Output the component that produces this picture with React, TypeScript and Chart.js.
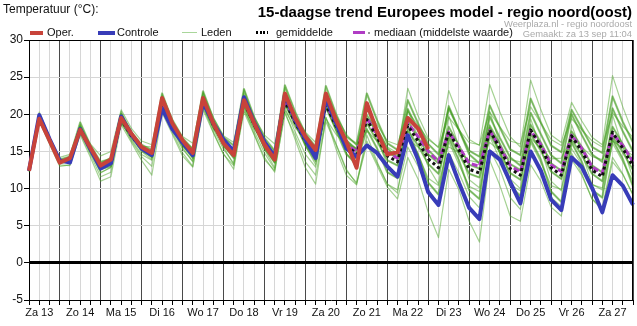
import React, { useEffect, useRef } from 'react';
import { Chart, registerables } from 'chart.js';
Chart.register(...registerables);

// ---- data ----
const dayLabels = ['Za 13', 'Zo 14', 'Ma 15', 'Di 16', 'Wo 17', 'Do 18', 'Vr 19', 'Za 20', 'Zo 21', 'Ma 22', 'Di 23', 'Wo 24', 'Do 25', 'Vr 26', 'Za 27'];
const hourLabels = ['06', '12', '18', '00'];
const yTicks = [-5, 0, 5, 10, 15, 20, 25, 30];

const oper = [
  12.4, 19.4, 16.5, 13.5, 14.1, 17.9, 15.5, 13.1, 13.9, 19.5, 17.4, 15.6,
  14.8, 22.2, 18.8, 16.5, 14.8, 22.2, 18.8, 16.1, 14.5, 21.9, 18.8, 15.9,
  13.9, 22.8, 19.5, 17.0, 15.2, 22.8, 19.2, 16.3, 12.8, 21.5, 17.7, 14.6,
  14.9, 19.5, 18.1, 15.3,
];
const controle = [
  12.4, 19.9, 16.7, 13.8, 13.5, 18.0, 15.3, 12.7, 13.4, 19.7, 17.3, 15.4,
  14.5, 20.8, 18.0, 16.2, 14.5, 21.6, 18.8, 16.6, 15.0, 22.3, 18.9, 16.3,
  14.3, 22.6, 19.3, 16.6, 14.1, 22.2, 18.8, 15.4, 14.3, 15.8, 14.8, 13.0,
  11.6, 17.2, 13.9, 9.5, 7.8, 14.5, 10.8, 7.4, 5.9, 15.0, 13.9, 10.9,
  8.0, 15.0, 12.4, 8.5, 7.1, 14.2, 12.9, 10.1, 6.8, 11.8, 10.4, 7.8,
];
const gemiddelde = [
  12.4, 19.6, 16.5, 13.6, 13.8, 18.0, 15.3, 12.9, 13.4, 19.4, 17.1, 15.4,
  14.6, 21.6, 18.4, 16.1, 14.6, 21.8, 18.6, 16.2, 14.5, 21.7, 18.6, 16.0,
  14.0, 21.8, 18.9, 16.4, 14.5, 21.3, 18.4, 15.9, 14.6, 19.3, 16.9, 14.4,
  13.6, 18.5, 16.4, 14.0, 12.8, 17.7, 15.2, 12.6, 12.1, 17.9, 15.4, 12.7,
  11.8, 17.9, 15.6, 12.8, 11.8, 17.1, 15.0, 12.5, 11.6, 17.6, 15.4, 13.0,
];
const mediaan = [
  12.4, 19.6, 16.5, 13.6, 13.8, 18.0, 15.3, 13.0, 13.5, 19.4, 17.1, 15.4,
  14.6, 21.7, 18.4, 16.1, 14.7, 21.9, 18.7, 16.3, 14.6, 21.8, 18.7, 16.1,
  14.2, 21.9, 19.0, 16.5, 14.8, 21.4, 18.6, 16.1, 14.9, 19.5, 17.2, 14.9,
  14.1, 18.8, 17.0, 15.0, 13.6, 17.6, 15.6, 13.4, 13.0, 17.8, 15.6, 13.1,
  12.2, 17.8, 15.9, 13.2, 12.3, 17.2, 15.4, 12.9, 12.1, 17.4, 15.8, 13.6,
];

const lid1 = [
  12.3, 19.8, 16.6, 13.9, 14.3, 18.9, 15.8, 13.6, 14.0, 20.1, 17.6, 15.9,
  15.2, 22.8, 19.1, 16.8, 15.3, 23.1, 19.4, 16.9, 15.8, 23.4, 19.6, 16.8,
  15.1, 23.9, 20.3, 17.4, 15.6, 23.8, 20.0, 17.0, 16.0, 22.8, 19.2, 16.1,
  15.2, 21.9, 18.8, 16.0, 14.6, 20.8, 17.9, 15.1, 14.3, 21.2, 18.2, 15.3,
  14.5, 22.1, 18.9, 15.8, 14.9, 20.6, 18.1, 15.6, 14.8, 22.4, 19.0, 16.2,
];
const lid2 = [
  12.5, 19.3, 16.2, 13.2, 13.1, 17.2, 14.2, 11.0, 11.6, 18.6, 16.2, 13.8,
  11.8, 20.2, 17.3, 14.4, 12.9, 20.6, 17.5, 14.6, 13.1, 20.3, 17.2, 13.9,
  12.4, 20.1, 17.1, 13.6, 11.8, 19.0, 15.9, 12.4, 10.8, 16.4, 13.4, 10.6,
  9.8, 15.6, 13.0, 9.9, 7.9, 14.8, 12.1, 8.9, 7.4, 15.3, 12.6, 8.8,
  7.2, 14.9, 12.4, 8.8, 7.6, 13.9, 11.8, 8.6, 7.4, 14.2, 12.0, 9.1,
];
const lid3 = [
  12.4, 19.6, 16.4, 13.4, 13.6, 17.7, 14.8, 12.2, 12.8, 19.0, 16.6, 14.6,
  13.8, 21.2, 17.9, 15.3, 13.7, 21.3, 18.0, 15.3, 13.4, 21.0, 17.7, 14.8,
  12.6, 20.9, 17.6, 14.6, 12.9, 19.6, 16.0, 12.6, 10.6, 16.0, 13.1, 10.2,
  8.6, 14.2, 11.3, 6.8, 3.4, 12.6, 9.8, 5.6, 2.8, 13.8, 10.4, 6.3,
  5.6, 13.2, 11.0, 7.5, 6.3, 14.8, 12.0, 8.6, 7.1, 13.6, 11.9, 9.2,
];
const lid4 = [
  12.3, 19.5, 16.6, 13.7, 14.0, 18.4, 15.6, 13.3, 13.9, 19.8, 17.4, 15.7,
  14.9, 22.0, 18.8, 16.5, 15.0, 22.4, 19.0, 16.6, 15.1, 22.6, 19.1, 16.5,
  14.6, 22.7, 19.5, 16.9, 15.2, 22.5, 19.3, 16.6, 15.2, 21.6, 18.2, 15.6,
  14.8, 23.5, 19.8, 16.8, 15.5, 23.2, 19.6, 16.6, 15.8, 24.0, 20.3, 17.0,
  15.6, 24.6, 20.6, 17.2, 16.2, 21.6, 19.1, 16.9, 15.9, 25.2, 21.0, 17.4,
];
const lid5 = [
  12.4, 19.5, 16.4, 13.5, 13.7, 17.9, 15.0, 12.6, 13.0, 19.2, 16.9, 15.1,
  14.3, 21.4, 18.1, 15.8, 14.3, 21.5, 18.3, 15.9, 14.1, 21.4, 18.3, 15.6,
  13.6, 21.5, 18.6, 16.0, 14.0, 20.9, 18.0, 15.4, 14.0, 18.8, 16.4, 13.8,
  13.1, 17.8, 15.8, 13.3, 12.0, 17.2, 14.7, 12.0, 11.5, 17.4, 14.9, 12.1,
  11.2, 17.3, 15.1, 12.3, 11.3, 16.6, 14.5, 12.0, 11.0, 17.0, 14.9, 12.5,
];
const lid6 = [
  12.4, 19.7, 16.6, 13.7, 13.9, 18.2, 15.5, 13.2, 13.7, 19.6, 17.3, 15.6,
  14.8, 21.8, 18.6, 16.3, 14.8, 22.0, 18.8, 16.4, 14.8, 22.0, 18.9, 16.3,
  14.3, 22.1, 19.1, 16.7, 14.9, 21.7, 18.8, 16.3, 15.0, 19.9, 17.4, 14.9,
  14.1, 19.1, 16.9, 14.6, 13.4, 18.3, 15.8, 13.2, 12.7, 18.5, 16.0, 13.3,
  12.5, 18.6, 16.2, 13.4, 12.4, 17.7, 15.6, 13.1, 12.2, 18.3, 16.0, 13.6,
];
const lid7 = [
  12.4, 20.3, 17.0, 13.8, 13.5, 18.6, 15.1, 12.1, 12.9, 20.4, 17.2, 15.0,
  13.9, 22.4, 18.2, 15.5, 13.6, 22.9, 18.7, 15.6, 13.2, 23.3, 19.0, 15.3,
  12.8, 23.6, 19.5, 15.8, 13.2, 22.6, 18.3, 14.8, 12.9, 20.8, 16.8, 13.1,
  11.8, 20.6, 16.9, 12.9, 10.6, 19.8, 15.6, 11.2, 10.1, 20.4, 16.0, 11.3,
  10.0, 19.4, 15.4, 11.0, 9.7, 18.6, 14.8, 10.6, 9.8, 19.9, 15.6, 11.4,
];
const lid8 = [
  12.4, 19.2, 16.3, 13.5, 14.1, 17.5, 15.4, 13.4, 14.2, 18.7, 17.0, 15.7,
  15.6, 20.4, 18.0, 16.6, 15.4, 20.8, 18.1, 16.5, 15.4, 20.5, 18.0, 16.4,
  15.0, 20.6, 18.2, 16.6, 15.3, 19.4, 17.3, 15.9, 15.5, 17.8, 16.4, 15.0,
  14.6, 16.6, 15.6, 14.5, 13.9, 15.6, 14.9, 13.8, 13.5, 16.2, 15.1, 13.9,
  13.6, 16.8, 15.4, 14.0, 14.1, 16.9, 15.6, 14.3, 13.9, 16.4, 15.5, 14.4,
];
const lid9 = [
  12.4, 19.8, 16.7, 13.6, 13.6, 18.3, 15.4, 12.8, 13.3, 19.9, 17.4, 15.4,
  14.2, 21.9, 18.5, 15.9, 14.1, 22.3, 18.8, 15.8, 14.3, 22.0, 18.6, 15.4,
  13.5, 22.4, 19.0, 15.8, 13.7, 21.2, 17.8, 14.6, 13.4, 18.0, 15.4, 12.2,
  11.4, 17.2, 14.6, 10.8, 9.2, 16.8, 13.8, 9.8, 8.6, 18.2, 14.8, 10.4,
  9.0, 16.6, 13.9, 9.6, 8.2, 16.2, 13.6, 9.8, 8.8, 16.6, 14.0, 10.3,
];
const lid10 = [
  12.4, 19.4, 16.5, 13.8, 14.0, 18.1, 15.3, 13.0, 13.5, 19.0, 17.0, 15.5,
  14.9, 21.3, 18.5, 16.3, 14.9, 21.5, 18.4, 16.2, 14.7, 21.2, 18.4, 16.2,
  14.4, 21.4, 18.7, 16.5, 14.8, 21.9, 18.9, 16.4, 15.3, 21.0, 18.0, 15.4,
  14.2, 20.7, 17.8, 15.2, 13.8, 21.1, 17.9, 14.6, 13.4, 19.7, 16.8, 14.2,
  13.1, 20.2, 17.3, 14.5, 13.4, 20.0, 17.2, 14.6, 13.6, 20.8, 17.7, 15.0,
];
const lid11 = [
  12.5, 19.1, 16.0, 13.0, 13.2, 17.4, 14.6, 11.6, 12.2, 19.1, 16.4, 14.3,
  13.0, 21.0, 17.6, 14.8, 13.0, 21.1, 17.6, 14.7, 12.6, 20.8, 17.3, 14.2,
  12.2, 20.4, 16.6, 12.8, 10.6, 19.6, 15.3, 11.8, 10.5, 17.2, 13.6, 10.6,
  9.4, 18.4, 14.6, 11.4, 10.4, 16.3, 13.2, 10.3, 9.6, 17.0, 13.9, 10.5,
  9.7, 16.2, 13.5, 10.4, 9.9, 15.4, 13.2, 10.5, 10.1, 16.1, 13.6, 11.0,
];
const lid12 = [
  12.4, 20.0, 16.8, 14.2, 14.6, 18.5, 16.0, 14.4, 15.0, 20.6, 18.1, 16.4,
  15.9, 22.6, 19.4, 17.0, 16.1, 22.9, 19.6, 17.1, 16.2, 22.8, 19.6, 17.2,
  16.0, 22.6, 19.8, 17.6, 16.2, 22.9, 19.8, 17.3, 15.8, 20.8, 18.6, 16.4,
  15.9, 20.4, 18.5, 16.6, 15.6, 19.6, 17.9, 16.2, 15.9, 20.3, 18.3, 16.4,
  16.0, 21.0, 18.8, 16.6, 15.8, 19.4, 17.9, 16.4, 15.6, 20.2, 18.4, 16.9,
];
const leden = [lid1, lid2, lid3, lid4, lid5, lid6, lid7, lid8, lid9, lid10, lid11, lid12];
// members closest to the ensemble core (drawn a little stronger)
const kernLeden = [lid5, lid6, lid10, lid1, lid9];

const FONT = 'Arial, "Liberation Sans", sans-serif';

const framePlugin = {
  id: 'frame',
  afterDraw(chart: any) {
    const { ctx, chartArea } = chart;
    const { left, top, right, bottom } = chartArea;
    ctx.save();
    ctx.strokeStyle = '#000';
    ctx.lineWidth = 1;
    ctx.beginPath();
    ctx.moveTo(left, top + 0.5);
    ctx.lineTo(right, top + 0.5);
    ctx.moveTo(right - 0.5, top);
    ctx.lineTo(right - 0.5, bottom);
    ctx.stroke();
    ctx.restore();
  },
};

export default function App() {
  const ref = useRef<HTMLCanvasElement>(null);

  useEffect(() => {
    document.body.style.margin = '0';
    const categories = dayLabels.flatMap((d) => hourLabels.map((h) => `${d} ${h}u`));
    const lineBase = { pointRadius: 0, tension: 0, fill: false, borderJoinStyle: 'round' as const };
    const chart = new Chart(ref.current as HTMLCanvasElement, {
      type: 'line',
      data: {
        labels: categories,
        datasets: [
          { ...lineBase, label: 'Oper.', data: oper, borderColor: '#C8433A', borderWidth: 4 },
          { ...lineBase, label: 'Controle', data: controle, borderColor: '#383CB8', borderWidth: 4 },
          { ...lineBase, label: 'gemiddelde', data: gemiddelde, borderColor: '#111', borderWidth: 3, borderDash: [3, 3] },
          { ...lineBase, label: 'mediaan', data: mediaan, borderColor: '#B03CC4', borderWidth: 3, borderDash: [6, 3] },
          ...kernLeden.map((m, k) => ({
            ...lineBase,
            label: 'Leden kern ' + (k + 1),
            data: m,
            borderColor: 'rgba(60,150,25,0.45)',
            borderWidth: 2.2,
          })),
          ...leden.map((m, k) => ({
            ...lineBase,
            label: 'Leden ' + (k + 1),
            data: m,
            borderColor: 'rgba(75,165,40,0.5)',
            borderWidth: 1.2,
          })),
        ],
      },
      options: {
        responsive: false,
        animation: false,
        devicePixelRatio: 1,
        layout: { padding: { top: 40, right: 4, left: 0, bottom: 0 } },
        plugins: { legend: { display: false }, tooltip: { enabled: false }, title: { display: false } },
        events: [],
        scales: {
          x: {
            type: 'category',
            grid: {
              color: (ctx: any) => (ctx.index % 4 === 3 ? '#4a4a4a' : '#d6d6d6'),
              lineWidth: 1,
              tickColor: '#000',
              tickLength: 5,
            },
            border: { color: '#000', width: 1 },
            ticks: {
              autoSkip: false,
              maxRotation: 0,
              minRotation: 0,
              padding: 1,
              color: '#111',
              font: { family: FONT, size: 11 },
              callback: (_v: any, i: number) => (i % 4 === 1 ? dayLabels[(i - 1) / 4] : ''),
            },
            afterFit: (s: any) => { s.height = 26; },
          },
          y: {
            min: yTicks[0],
            max: yTicks[yTicks.length - 1],
            afterBuildTicks: (s: any) => { s.ticks = yTicks.map((v) => ({ value: v })); },
            grid: {
              color: (ctx: any) => (ctx.tick && ctx.tick.value === 0 ? '#000' : '#d6d6d6'),
              lineWidth: (ctx: any) => (ctx.tick && ctx.tick.value === 0 ? 3 : 1),
              tickColor: '#000',
              tickWidth: 1,
              tickLength: 5,
            },
            border: { color: '#000', width: 1 },
            ticks: { padding: 1, color: '#111', font: { family: FONT, size: 12 } },
            afterFit: (s: any) => { s.width = 29; },
          },
        },
      },
      plugins: [framePlugin],
    });
    return () => chart.destroy();
  }, []);

  const txt = (extra: React.CSSProperties): React.CSSProperties => ({
    position: 'absolute',
    whiteSpace: 'nowrap',
    fontFamily: FONT,
    ...extra,
  });
  const legendText = (left: number): React.CSSProperties =>
    txt({ left, top: 27, fontSize: 11, lineHeight: '11px', color: '#111' });

  return (
    <div style={{ position: 'relative', width: 637, height: 326, background: '#fff', overflow: 'hidden' }}>
      <canvas ref={ref} width={637} height={326} style={{ position: 'absolute', left: 0, top: 0, width: 637, height: 326 }} />
      <div style={txt({ left: 3, top: 3, fontSize: 12, lineHeight: '12px', color: '#111' })}>Temperatuur (°C):</div>
      <div style={txt({ right: 5, top: 4, fontSize: 15, lineHeight: '15px', fontWeight: 'bold', color: '#000' })}>
        15-daagse trend Europees model - regio noord(oost)
      </div>
      <div style={txt({ right: 5, top: 19, fontSize: 9.4, lineHeight: '10px', color: '#aaa' })}>Weerplaza.nl - regio noordoost</div>
      <div style={txt({ right: 5, top: 29, fontSize: 9.4, lineHeight: '10px', color: '#aaa' })}>Gemaakt: za 13 sep 11:04</div>

      <div style={{ position: 'absolute', left: 30, top: 31, width: 13, height: 4, background: '#C8433A' }} />
      <div style={legendText(47)}>Oper.</div>
      <div style={{ position: 'absolute', left: 98, top: 31, width: 17, height: 4, background: '#383CB8' }} />
      <div style={legendText(117)}>Controle</div>
      <div style={{ position: 'absolute', left: 182, top: 32, width: 15, height: 1, background: '#a9d69a' }} />
      <div style={legendText(201)}>Leden</div>
      <div style={{ position: 'absolute', left: 256, top: 31, width: 12, height: 3, background: 'repeating-linear-gradient(90deg, #000 0 2px, transparent 2px 3.5px)' }} />
      <div style={legendText(276)}>gemiddelde</div>
      <div style={{ position: 'absolute', left: 353, top: 31, width: 12, height: 3, background: '#B03CC4' }} />
      <div style={{ position: 'absolute', left: 368, top: 32, width: 2, height: 2, background: '#999' }} />
      <div style={legendText(374)}>mediaan (middelste waarde)</div>
    </div>
  );
}
